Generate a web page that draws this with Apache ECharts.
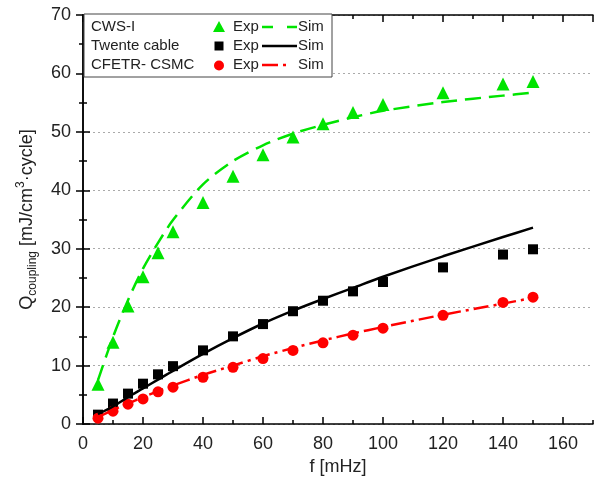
<!DOCTYPE html>
<html>
<head>
<meta charset="utf-8">
<script src="https://cdn.jsdelivr.net/npm/echarts@6/dist/echarts.min.js"></script>
<style>
  html, body { margin: 0; padding: 0; background: #fff; }
  #main { width: 606px; height: 488px; }
</style>
</head>
<body>
<div id="main"></div>
<script>
// 实验点 (mHz)
const freq = [5, 10, 15, 20, 25, 30, 40, 50, 60, 70, 80, 90, 100, 120, 140, 150];
const cwsExp = [6.8, 14.0, 20.2, 25.2, 29.3, 32.9, 37.9, 42.4, 46.1, 49.1, 51.4, 53.3, 54.7, 56.7, 58.2, 58.6];
const twenteExp = [1.6, 3.5, 5.2, 6.9, 8.5, 9.9, 12.6, 15.0, 17.1, 19.3, 21.1, 22.7, 24.3, 26.8, 29.0, 29.9];
const cfetrExp = [1.0, 2.2, 3.4, 4.3, 5.5, 6.3, 8.0, 9.7, 11.2, 12.6, 13.9, 15.2, 16.4, 18.6, 20.8, 21.7];

// 仿真曲线
const simFreq = [5, 10, 15, 20, 25, 30, 40, 50, 60, 70, 80, 90, 100, 120, 140, 150];
const cwsSim = [7.5, 14.9, 21.2, 26.6, 31.0, 34.9, 41.0, 45.0, 47.7, 49.7, 51.2, 52.5, 53.6, 55.1, 56.2, 56.7];
const twenteSim = [1.7, 3.0, 4.6, 6.1, 7.6, 9.1, 12.0, 14.7, 17.2, 19.4, 21.4, 23.3, 25.2, 28.7, 32.0, 33.6];
const cfetrSim = [1.2, 2.4, 3.5, 4.6, 5.6, 6.6, 8.4, 10.0, 11.6, 13.0, 14.3, 15.5, 16.6, 18.7, 20.6, 21.6];

const GREEN = '#00e400';
const RED = '#ff0000';
const FONT = 'Liberation Sans, Arial, sans-serif';

function pairs(xs, ys) {
  return xs.map((x, i) => [x, ys[i]]);
}

const myChart = echarts.init(document.getElementById('main'));

const axisLine = { show: true, lineStyle: { color: '#000', width: 1.5 } };
const noLine = { show: false };

function xAxisPart(position, interval, tickLen, withLine) {
  return {
    type: 'value', position: position, min: 0, max: 170, interval: interval,
    axisLine: withLine ? axisLine : noLine,
    axisTick: { show: true, inside: true, length: tickLen, lineStyle: { color: '#000', width: 1.5 } },
    axisLabel: { show: false },
    splitLine: { show: false },
  };
}

const xMain = xAxisPart('bottom', 20, 7, true);
xMain.axisLabel = { show: true, fontSize: 18, fontFamily: FONT, color: '#222', margin: 11, showMaxLabel: false };
xMain.name = 'f [mHz]';
xMain.nameLocation = 'middle';
xMain.nameGap = 34;
xMain.nameTextStyle = { fontSize: 18, fontFamily: FONT, color: '#222' };

function yAxisPart(position, withLabel) {
  const ax = {
    type: 'value', position: position, min: 0, max: 70, interval: 10,
    axisLine: axisLine,
    axisTick: { show: true, inside: true, length: 7, lineStyle: { color: '#000', width: 1.5 } },
    minorTick: { show: true, splitNumber: 2, length: 4, lineStyle: { color: '#000', width: 1.5 } },
    axisLabel: { show: false },
    splitLine: { show: false },
  };
  if (withLabel) {
    ax.axisLabel = { show: true, fontSize: 18, fontFamily: FONT, color: '#222', margin: 12 };
    ax.splitLine = { show: true, lineStyle: { color: '#aaa', width: 1, type: [2, 3] } };
    ax.name = '{q|Q}{s|coupling}{q| [mJ/cm}{p|3}{q|·cycle]}';
    ax.nameLocation = 'middle';
    ax.nameRotate = 90;
    ax.nameGap = 44;
    ax.nameTextStyle = {
      fontFamily: FONT, color: '#222',
      rich: {
        q: { fontSize: 18, fontFamily: FONT, color: '#222', lineHeight: 24 },
        s: { fontSize: 12, fontFamily: FONT, color: '#222', lineHeight: 12, verticalAlign: 'bottom' },
        p: { fontSize: 12, fontFamily: FONT, color: '#222', lineHeight: 14, verticalAlign: 'top' },
      },
    };
  }
  return ax;
}

function expSeries(name, data, symbol, size, color) {
  return {
    name: name, type: 'scatter', xAxisIndex: 0, yAxisIndex: 0,
    symbol: symbol, symbolSize: size,
    itemStyle: { color: color, opacity: 1 },
    emphasis: { disabled: true },
    data: pairs(freq, data), z: 3,
  };
}

function simSeries(name, data, color, dash) {
  return {
    name: name, type: 'line', xAxisIndex: 0, yAxisIndex: 0,
    smooth: 0.3, showSymbol: false,
    lineStyle: { color: color, width: 2.5, type: dash },
    emphasis: { disabled: true },
    data: pairs(simFreq, data), z: 4,
  };
}

// 图例（手绘框）
const rows = [27, 46, 65];
const legendText = (text, x, y) => ({
  type: 'text', z: 100,
  style: { text: text, x: x, y: y, fontSize: 15, fontFamily: FONT, fill: '#222', verticalAlign: 'middle' },
});
const legendLine = (y, color, dash) => ({
  type: 'line', z: 100,
  shape: { x1: 262, y1: y, x2: 297, y2: y },
  style: { stroke: color, lineWidth: 2.5, lineDash: dash },
});

myChart.setOption({
  animation: false,
  grid: { left: 83, right: 13, top: 15, bottom: 64 },
  xAxis: [
    xMain,
    xAxisPart('bottom', 10, 4, false),
    xAxisPart('top', 20, 7, true),
    xAxisPart('top', 10, 4, false),
  ],
  yAxis: [yAxisPart('left', true), yAxisPart('right', false)],
  series: [
    expSeries('CWS-I Exp', cwsExp, 'triangle', 13, GREEN),
    expSeries('Twente cable Exp', twenteExp, 'rect', 10, '#000'),
    expSeries('CFETR- CSMC Exp', cfetrExp, 'circle', 11, RED),
    simSeries('CWS-I Sim', cwsSim, GREEN, [16, 8]),
    simSeries('Twente cable Sim', twenteSim, '#000', 'solid'),
    simSeries('CFETR- CSMC Sim', cfetrSim, RED, [15, 5, 3, 5]),
  ],
  graphic: [
    { type: 'rect', z: 99, shape: { x: 84, y: 14, width: 248, height: 63 }, style: { fill: '#fff', stroke: '#444', lineWidth: 1 } },
    legendText('CWS-I', 91, rows[0]),
    legendText('Twente cable', 91, rows[1]),
    legendText('CFETR- CSMC', 91, rows[2]),
    { type: 'polygon', z: 100, shape: { points: [[219, 21], [213, 32], [225, 32]] }, style: { fill: GREEN } },
    { type: 'rect', z: 100, shape: { x: 214.5, y: 41.5, width: 9, height: 9 }, style: { fill: '#000' } },
    { type: 'circle', z: 100, shape: { cx: 219, cy: 65.5, r: 5 }, style: { fill: RED } },
    legendText('Exp', 233, rows[0]),
    legendText('Exp', 233, rows[1]),
    legendText('Exp', 233, rows[2]),
    legendLine(rows[0], GREEN, [11, 14]),
    legendLine(rows[1], '#000', null),
    legendLine(rows[2], RED, [16, 5, 3, 20]),
    legendText('Sim', 298, rows[0]),
    legendText('Sim', 298, rows[1]),
    legendText('Sim', 298, rows[2]),
  ],
});
</script>
</body>
</html>
